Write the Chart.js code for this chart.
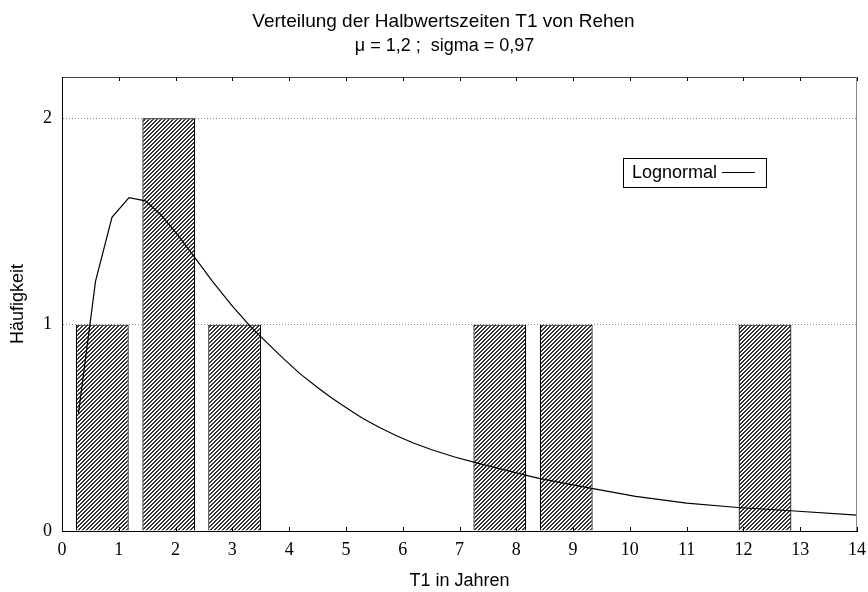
<!DOCTYPE html>
<html>
<head>
<meta charset="utf-8">
<script src="https://cdn.jsdelivr.net/npm/chart.js@4"></script>
<style>
  body { margin: 0; background: #fff; }
</style>
</head>
<body>
<canvas id="myChart" width="868" height="592"></canvas>
<script>
// histogram bins (centres) and counts
const binCenters = [0.71, 1.88, 3.04, 7.71, 8.88, 12.38];
const counts = [1, 2, 1, 1, 1, 1];

// fitted lognormal curve
const curveX = [0.29, 0.59, 0.88, 1.18, 1.47, 1.75, 2.05, 2.34, 2.65, 3.0, 3.32, 3.6, 3.9, 4.2, 4.5, 4.75,
  5.1, 5.3, 5.6, 5.9, 6.2, 6.5, 6.9, 7.3, 7.7, 8.2, 8.4, 8.9, 9.4, 10.1, 11.0, 11.9, 12.9, 14.0];
const curveY = [0.57, 1.21, 1.52, 1.615, 1.60, 1.53, 1.43, 1.325, 1.21, 1.09, 0.99, 0.915, 0.835, 0.76, 0.695, 0.645,
  0.58, 0.545, 0.50, 0.46, 0.425, 0.395, 0.36, 0.33, 0.302, 0.268, 0.255, 0.228, 0.203, 0.168, 0.135, 0.114, 0.097, 0.077];

const xTicks = [0, 1, 2, 3, 4, 5, 6, 7, 8, 9, 10, 11, 12, 13, 14];
const yTicks = [0, 1, 2];
const titleLines = ['Verteilung der Halbwertszeiten T1 von Rehen', 'μ = 1,2 ;  sigma = 0,97'];

Chart.defaults.font.family = '"Liberation Sans", Arial, sans-serif';
Chart.defaults.color = '#000';

// diagonal hatch for the bars
function hatch() {
  const c = document.createElement('canvas');
  c.width = 4; c.height = 4;
  const g = c.getContext('2d');
  g.fillStyle = '#fff';
  g.fillRect(0, 0, 4, 4);
  g.fillStyle = '#333';
  for (let i = 0; i < 4; i++) {
    g.fillRect(i, 3 - i, 1, 1);
    g.fillRect(i, (4 - i) % 4, 1, 1);
  }
  return g.createPattern(c, 'repeat');
}

// two-line title, a little left of the plot centre like the original
const titleText = {
  id: 'titleText',
  afterDraw(chart) {
    const ctx = chart.ctx;
    const a = chart.chartArea;
    const cx = (a.left + a.right) / 2 - 16;
    ctx.save();
    ctx.fillStyle = '#000';
    ctx.textAlign = 'center';
    ctx.textBaseline = 'middle';
    ctx.font = '19px "Liberation Sans", Arial, sans-serif';
    ctx.fillText(titleLines[0], cx, 22);
    ctx.font = '18px "Liberation Sans", Arial, sans-serif';
    ctx.fillText(titleLines[1], cx + 1, 46);
    ctx.restore();
  }
};

// top/right frame lines and inward tick marks
const frame = {
  id: 'frame',
  afterDraw(chart) {
    const ctx = chart.ctx;
    const a = chart.chartArea;
    const xs = chart.scales.x;
    ctx.save();
    ctx.lineWidth = 1;
    ctx.strokeStyle = '#444';
    ctx.beginPath();
    ctx.moveTo(a.left, a.top + 0.5);
    ctx.lineTo(a.right, a.top + 0.5);
    ctx.stroke();
    ctx.strokeStyle = '#888';
    ctx.beginPath();
    ctx.moveTo(a.right - 0.5, a.top);
    ctx.lineTo(a.right - 0.5, a.bottom);
    ctx.stroke();
    ctx.strokeStyle = '#000';
    xTicks.forEach(v => {
      const px = Math.round(xs.getPixelForValue(v)) + 0.5;
      ctx.beginPath();
      ctx.moveTo(px, a.bottom);
      ctx.lineTo(px, a.bottom - 4);
      ctx.moveTo(px, a.top);
      ctx.lineTo(px, a.top + 4);
      ctx.stroke();
    });
    ctx.restore();
  }
};

// legend box inside the plot
const legendBox = {
  id: 'legendBox',
  afterDraw(chart) {
    const ctx = chart.ctx;
    const a = chart.chartArea;
    const x = a.right - 234, y = a.top + 81, w = 143, h = 29;
    ctx.save();
    ctx.fillStyle = '#fff';
    ctx.fillRect(x, y, w, h);
    ctx.strokeStyle = '#000';
    ctx.lineWidth = 1;
    ctx.strokeRect(x + 0.5, y + 0.5, w, h);
    ctx.fillStyle = '#000';
    ctx.font = '18px "Liberation Sans", Arial, sans-serif';
    ctx.textBaseline = 'middle';
    ctx.fillText('Lognormal', x + 9, y + h / 2 + 1);
    ctx.beginPath();
    ctx.moveTo(x + 99, y + h / 2);
    ctx.lineTo(x + 132, y + h / 2);
    ctx.stroke();
    ctx.restore();
  }
};

new Chart(document.getElementById('myChart').getContext('2d'), {
  data: {
    datasets: [
      {
        type: 'line',
        label: 'Lognormal',
        data: curveX.map((x, i) => ({ x: x, y: curveY[i] })),
        borderColor: '#000',
        borderWidth: 1.2,
        pointRadius: 0,
        tension: 0,
        order: 0
      },
      {
        type: 'bar',
        label: 'Häufigkeit',
        data: binCenters.map((x, i) => ({ x: x, y: counts[i] })),
        backgroundColor: hatch(),
        borderColor: '#000',
        borderWidth: 1.2,
        barPercentage: 0.93,
        categoryPercentage: 1,
        order: 1
      }
    ]
  },
  options: {
    responsive: false,
    animation: false,
    layout: { padding: { left: 0, right: 11, top: 77, bottom: 0 } },
    plugins: {
      legend: { display: false },
      tooltip: { enabled: false },
      title: { display: false }
    },
    scales: {
      x: {
        type: 'linear',
        offset: false,
        min: 0,
        max: 14,
        afterBuildTicks: s => { s.ticks = xTicks.map(v => ({ value: v })); },
        afterFit: s => { s.height = 61; s.paddingLeft = 0; s.paddingRight = 0; },
        grid: { drawOnChartArea: false, drawTicks: false, offset: false },
        border: { color: '#000', width: 1 },
        ticks: {
          font: { family: '"Liberation Serif", "Times New Roman", serif', size: 18 },
          padding: 8,
          maxRotation: 0
        },
        title: {
          display: true,
          text: 'T1 in Jahren',
          font: { size: 18 },
          padding: { top: 0, bottom: 0 }
        }
      },
      y: {
        min: 0,
        max: 2.2,
        afterBuildTicks: s => { s.ticks = yTicks.map(v => ({ value: v })); },
        afterFit: s => { s.width = 62; },
        grid: {
          drawTicks: false,
          color: c => (c.tick && c.tick.value === 0 ? 'rgba(0,0,0,0)' : '#888'),
          lineWidth: 1
        },
        border: { color: '#000', width: 1, dash: [1, 2] },
        ticks: {
          font: { family: '"Liberation Serif", "Times New Roman", serif', size: 18 },
          padding: 10
        },
        title: {
          display: true,
          text: 'Häufigkeit',
          font: { size: 18 },
          padding: { top: 7, bottom: 0 }
        }
      }
    }
  },
  plugins: [frame, legendBox, titleText]
});
</script>
</body>
</html>
